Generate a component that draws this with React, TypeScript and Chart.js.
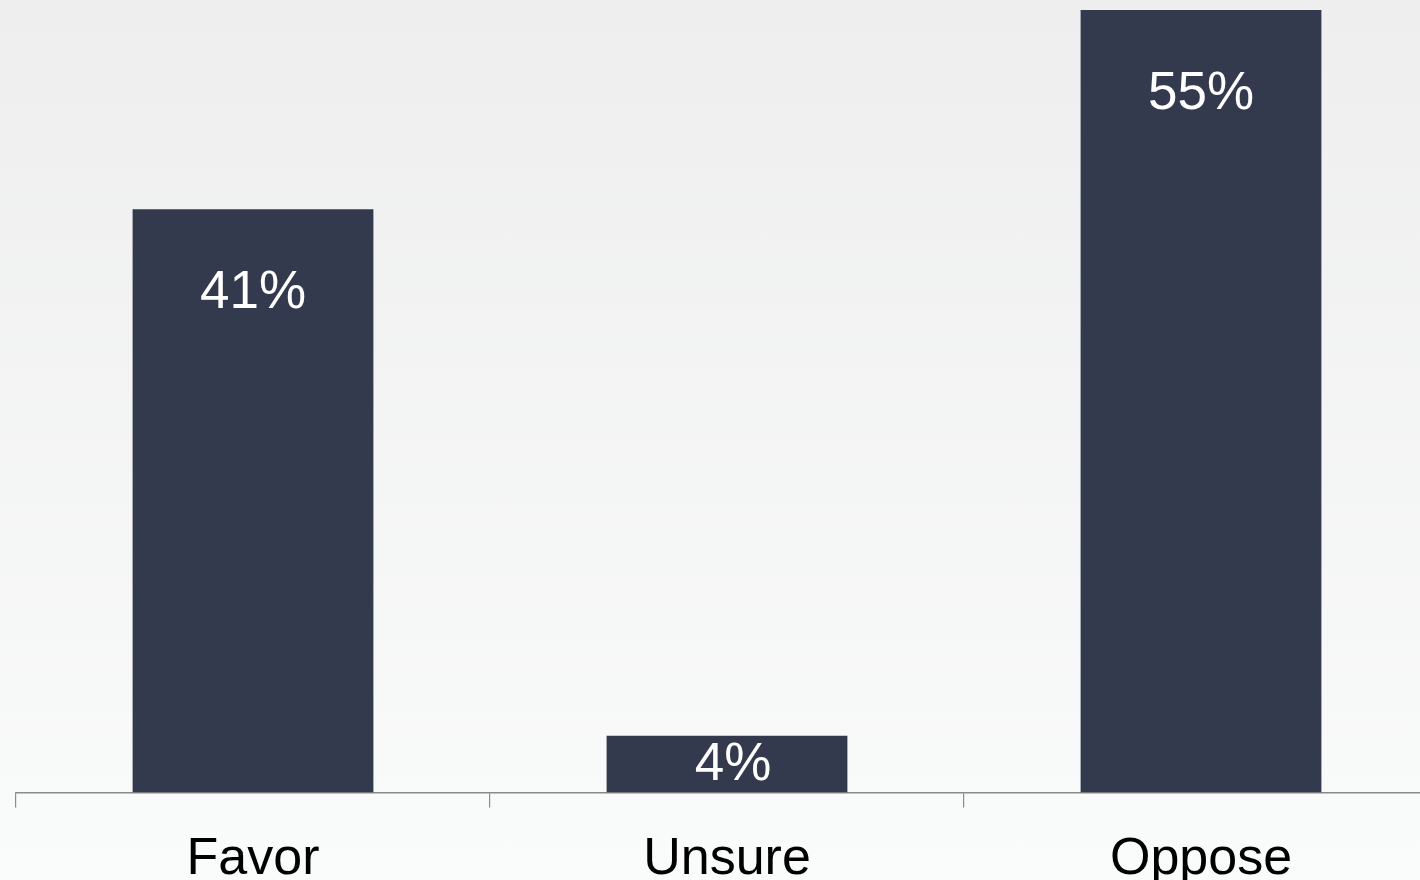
import React, { useEffect, useRef } from "react";
import { Chart, registerables } from "chart.js";

Chart.register(...registerables);

const categories = ["Favor", "Unsure", "Oppose"];
const values = [41, 4, 55];
const valueLabels = ["41%", "4%", "55%"];

const FONT = '"Liberation Sans", Arial, sans-serif';

const valueLabelPlugin = {
  id: "valueLabels",
  afterDatasetsDraw(chart: any) {
    const ctx = chart.ctx;
    const meta = chart.getDatasetMeta(0);
    ctx.save();
    ctx.fillStyle = "#ffffff";
    ctx.font = `53px ${FONT}`;
    ctx.textAlign = "center";
    ctx.textBaseline = "middle";
    meta.data.forEach((bar: any, i: number) => {
      const h = bar.base - bar.y;
      const tall = h > 120;
      const cy = tall ? bar.y + 84 : (bar.y + bar.base) / 2 + 1;
      const cx = tall ? bar.x : bar.x + 6;
      ctx.fillText(valueLabels[i], cx, cy);
    });
    ctx.restore();
  },
};

export default function App() {
  const ref = useRef<HTMLCanvasElement>(null);
  useEffect(() => {
    if (!ref.current) return;
    const chart = new Chart(ref.current, {
      type: "bar",
      data: {
        labels: categories,
        datasets: [
          {
            data: values,
            backgroundColor: "#333a4d",
            borderWidth: 0,
            categoryPercentage: 1,
            barPercentage: 0.508,
          },
        ],
      },
      options: {
        animation: false,
        responsive: false,
        devicePixelRatio: 1,
        layout: { padding: { top: 10, left: 16, right: 2, bottom: 1 } },
        plugins: { legend: { display: false }, tooltip: { enabled: false } },
        scales: {
          y: { display: false, min: 0, max: 55 },
          x: {
            border: { display: true, color: "#8a8a8a", width: 1.5 },
            grid: {
              display: true,
              drawOnChartArea: false,
              drawTicks: true,
              tickLength: 15,
              color: "#8a8a8a",
              lineWidth: 1.2,
              offset: true,
            },
            ticks: {
              color: "#000000",
              font: { family: FONT, size: 52 },
              padding: 21,
              maxRotation: 0,
              autoSkip: false,
            },
          },
        },
      },
      plugins: [valueLabelPlugin],
    });
    return () => chart.destroy();
  }, []);
  return (
    <div
      style={{
        position: "fixed",
        left: 0,
        top: 0,
        width: 1420,
        height: 880,
        overflow: "hidden",
        background: "linear-gradient(#eeeeee, #fafbfb)",
      }}
    >
      <canvas
        ref={ref}
        width={1440}
        height={913}
        style={{ display: "block", width: 1440, height: 913 }}
      />
    </div>
  );
}
